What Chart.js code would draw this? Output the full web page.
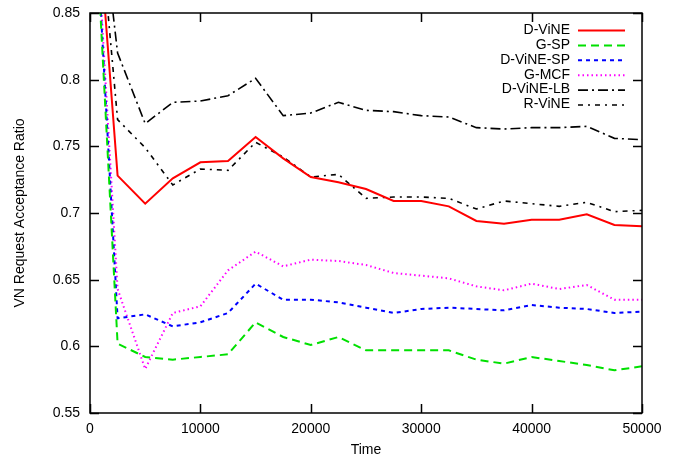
<!DOCTYPE html>
<html>
<head>
<meta charset="utf-8">
<script src="https://cdn.jsdelivr.net/npm/chart.js@4/dist/chart.umd.min.js"></script>
<style>
  html, body { margin: 0; padding: 0; background: #fff; }
  #wrap { width: 686px; height: 459px; }
</style>
</head>
<body>
<div id="wrap"><canvas id="ratioChart" width="686" height="459"></canvas></div>
<script>
// Data
const timeSteps = [0, 2500, 5000, 7500, 10000, 12500, 15000, 17500, 20000, 22500, 25000,
    27500, 30000, 32500, 35000, 37500, 40000, 42500, 45000, 47500, 50000];

const dVine   = [1.0, 0.728, 0.707, 0.726, 0.738, 0.739, 0.757, 0.741, 0.727, 0.723, 0.718,
    0.709, 0.709, 0.705, 0.694, 0.692, 0.695, 0.695, 0.699, 0.691, 0.690];
const gSp     = [1.0, 0.602, 0.592, 0.590, 0.592, 0.594, 0.618, 0.607, 0.601, 0.607, 0.597,
    0.597, 0.597, 0.597, 0.590, 0.587, 0.592, 0.589, 0.586, 0.582, 0.585];
const dVineSp = [1.0, 0.621, 0.624, 0.615, 0.618, 0.625, 0.647, 0.635, 0.635, 0.633, 0.629,
    0.625, 0.628, 0.629, 0.628, 0.627, 0.631, 0.629, 0.628, 0.625, 0.626];
const gMcf    = [1.0, 0.643, 0.583, 0.625, 0.630, 0.657, 0.671, 0.660, 0.665, 0.664, 0.661,
    0.655, 0.653, 0.651, 0.645, 0.642, 0.647, 0.643, 0.646, 0.635, 0.635];
const dVineLb = [1.0, 0.820, 0.767, 0.783, 0.784, 0.788, 0.801, 0.773, 0.775, 0.783, 0.777,
    0.776, 0.773, 0.772, 0.764, 0.763, 0.764, 0.764, 0.765, 0.756, 0.755];
const rVine   = [1.0, 0.770, 0.749, 0.721, 0.733, 0.732, 0.753, 0.742, 0.727, 0.729, 0.711,
    0.712, 0.712, 0.711, 0.703, 0.709, 0.707, 0.705, 0.708, 0.701, 0.702];

const seriesNames = ['D-ViNE', 'G-SP', 'D-ViNE-SP', 'G-MCF', 'D-ViNE-LB', 'R-ViNE'];

const xTickValues = [0, 10000, 20000, 30000, 40000, 50000];
const yTickValues = [0.55, 0.6, 0.65, 0.7, 0.75, 0.8, 0.85];
const yTickLabels = ['0.55', '0.6', '0.65', '0.7', '0.75', '0.8', '0.85'];

const FONT = 'Liberation Sans, Arial, sans-serif';

function toPoints(values) {
    return timeSteps.map((t, i) => ({ x: t, y: values[i] }));
}

function makeSet(label, values, color, dash, width) {
    return {
        label: label,
        data: toPoints(values),
        borderColor: color,
        backgroundColor: color,
        borderDash: dash,
        borderWidth: width,
        pointRadius: 0,
        tension: 0,
        fill: false
    };
}

// Frame, inward ticks on all four sides, and the key in the top right
const framePlugin = {
    id: 'gnuplotFrame',
    afterDraw(chart) {
        const ctx = chart.ctx;
        const area = chart.chartArea;
        const xs = chart.scales.x;
        const ys = chart.scales.y;
        const tick = 9;

        ctx.save();
        ctx.strokeStyle = '#000';
        ctx.lineWidth = 1.5;
        ctx.setLineDash([]);
        ctx.strokeRect(area.left, area.top, area.right - area.left, area.bottom - area.top);

        ctx.beginPath();
        xTickValues.forEach(v => {
            const px = Math.round(xs.getPixelForValue(v)) + 0.5;
            ctx.moveTo(px, area.bottom); ctx.lineTo(px, area.bottom - tick);
            ctx.moveTo(px, area.top); ctx.lineTo(px, area.top + tick);
        });
        yTickValues.forEach(v => {
            const py = Math.round(ys.getPixelForValue(v)) + 0.5;
            ctx.moveTo(area.left, py); ctx.lineTo(area.left + tick, py);
            ctx.moveTo(area.right, py); ctx.lineTo(area.right - tick, py);
        });
        ctx.stroke();

        // key
        const textRight = 570;
        const lineLeft = 578;
        const lineRight = 625;
        let y = 30;
        ctx.font = '14px ' + FONT;
        ctx.textAlign = 'right';
        ctx.textBaseline = 'middle';
        chart.data.datasets.forEach(ds => {
            ctx.fillStyle = '#000';
            ctx.fillText(ds.label, textRight, y);
            ctx.strokeStyle = ds.borderColor;
            ctx.lineWidth = ds.borderWidth;
            ctx.setLineDash(ds.borderDash || []);
            ctx.beginPath();
            ctx.moveTo(lineLeft, y + 0.5);
            ctx.lineTo(lineRight, y + 0.5);
            ctx.stroke();
            y += 14.9;
        });
        ctx.restore();
    }
};

const ctx = document.getElementById('ratioChart').getContext('2d');
new Chart(ctx, {
    type: 'line',
    data: {
        datasets: [
            makeSet(seriesNames[0], dVine,   '#ff0000', [], 2),
            makeSet(seriesNames[1], gSp,     '#00e000', [8, 5], 2),
            makeSet(seriesNames[2], dVineSp, '#0000ff', [4, 4], 2),
            makeSet(seriesNames[3], gMcf,    '#ff00ff', [1.5, 3], 2),
            makeSet(seriesNames[4], dVineLb, '#000000', [10, 4, 2, 4], 1.6),
            makeSet(seriesNames[5], rVine,   '#000000', [5, 5, 2, 5], 1.6)
        ]
    },
    options: {
        responsive: false,
        animation: false,
        devicePixelRatio: 1,
        layout: { padding: { left: 0, top: 13, right: 44, bottom: 0 } },
        plugins: {
            legend: { display: false },
            tooltip: { enabled: false }
        },
        scales: {
            x: {
                type: 'linear',
                min: 0,
                max: 50000,
                afterFit: scale => {
                    scale.height = 46;
                    scale.paddingLeft = 0;
                    scale.paddingRight = 0;
                },
                afterBuildTicks: scale => {
                    scale.ticks = xTickValues.map(v => ({ value: v }));
                },
                grid: { display: false, drawTicks: false },
                border: { display: false },
                ticks: {
                    padding: 8,
                    color: '#000',
                    font: { family: FONT, size: 14 },
                    maxRotation: 0,
                    callback: value => String(value)
                },
                title: {
                    display: true,
                    text: 'Time',
                    color: '#000',
                    font: { family: FONT, size: 14 },
                    padding: { top: 0, bottom: 0 }
                }
            },
            y: {
                type: 'linear',
                min: 0.55,
                max: 0.85,
                afterFit: scale => {
                    scale.width = 90;
                    scale.paddingTop = 0;
                    scale.paddingBottom = 0;
                },
                afterBuildTicks: scale => {
                    scale.ticks = yTickValues.map(v => ({ value: v }));
                },
                grid: { display: false, drawTicks: false },
                border: { display: false },
                ticks: {
                    padding: 10,
                    color: '#000',
                    font: { family: FONT, size: 14 },
                    callback: (value, index) => yTickLabels[index]
                },
                title: {
                    display: true,
                    text: 'VN Request Acceptance Ratio',
                    color: '#000',
                    font: { family: FONT, size: 14 },
                    padding: { top: 12, bottom: 0 }
                }
            }
        }
    },
    plugins: [framePlugin]
});
</script>
</body>
</html>
